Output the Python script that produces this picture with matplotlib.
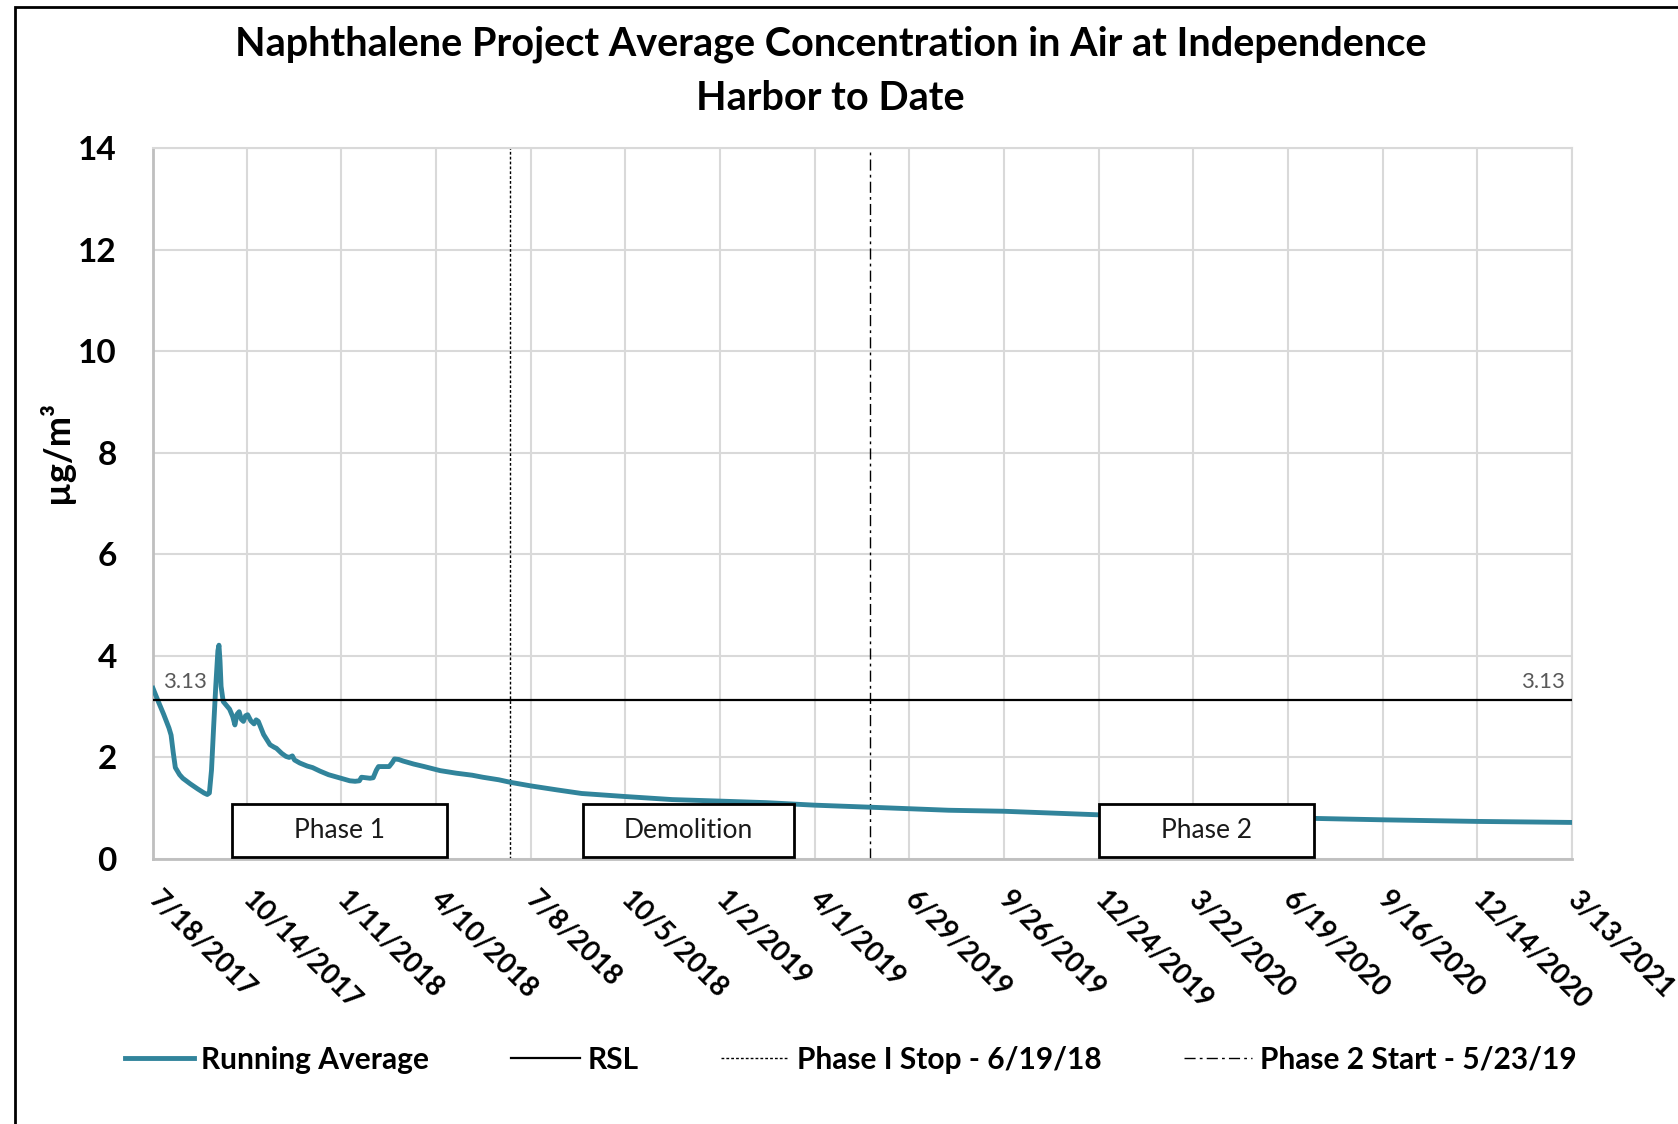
import matplotlib
matplotlib.use("Agg")
import matplotlib.pyplot as plt
from matplotlib.patches import Rectangle
import pandas as pd

# running average, days after 7/18/2017
days = [0, 5, 10, 15, 17, 19, 21, 25, 28, 35, 42, 48, 51, 53, 55, 57, 59, 61, 62,
        63, 64, 66, 68, 70, 72, 75, 77, 79, 81, 83, 85, 87, 89, 92, 95, 97, 99,
        104, 110, 114, 116, 121, 125, 128, 131, 133, 138, 145, 150, 157, 165,
        175, 185, 190, 194, 196, 200, 204, 207, 210, 212, 218, 222, 225, 227,
        231, 235, 245, 255, 270, 285, 300, 310, 325, 336, 355, 380, 403, 444,
        488, 533, 576, 622, 674, 711, 748, 800, 889, 1000, 1090, 1160, 1245, 1334]
running_avg = [3.36, 3.10, 2.85, 2.58, 2.44, 2.10, 1.80, 1.66, 1.59, 1.48, 1.38, 1.30,
               1.27, 1.30, 1.75, 2.60, 3.40, 4.10, 4.21, 3.90, 3.40, 3.10, 3.05, 3.00,
               2.95, 2.80, 2.64, 2.85, 2.90, 2.75, 2.71, 2.82, 2.84, 2.72, 2.66, 2.74,
               2.71, 2.45, 2.25, 2.20, 2.18, 2.08, 2.02, 2.00, 2.03, 1.95, 1.89, 1.83,
               1.80, 1.73, 1.66, 1.60, 1.54, 1.53, 1.54, 1.61, 1.60, 1.59, 1.60, 1.75,
               1.82, 1.82, 1.82, 1.90, 1.97, 1.96, 1.93, 1.87, 1.82, 1.74, 1.69, 1.65,
               1.61, 1.56, 1.51, 1.44, 1.36, 1.29, 1.23, 1.17, 1.14, 1.11, 1.06, 1.02,
               0.99, 0.96, 0.94, 0.87, 0.83, 0.80, 0.77, 0.74, 0.72]

rsl = 3.13
start_date = "2017-07-18"
phase1_stop = "2018-06-19"
phase2_start = "2019-05-23"

tick_labels = ["7/18/2017", "10/14/2017", "1/11/2018", "4/10/2018", "7/8/2018",
               "10/5/2018", "1/2/2019", "4/1/2019", "6/29/2019", "9/26/2019",
               "12/24/2019", "3/22/2020", "6/19/2020", "9/16/2020", "12/14/2020",
               "3/13/2021"]

# (label, x0, x1) in axes fraction
boxes = [("Phase 1", 0.056, 0.207), ("Demolition", 0.303, 0.452), ("Phase 2", 0.667, 0.818)]

teal = "#31849B"
grid_c = "#D9D9D9"
plt.rcParams['font.family'] = ['Lato', 'DejaVu Sans']

dates = pd.Timestamp(start_date) + pd.to_timedelta(days, unit="D")
tick_dates = pd.to_datetime(tick_labels, format="%m/%d/%Y")

fig = plt.figure(figsize=(16.78, 11.24), dpi=100)
ax = fig.add_axes([153 / 1678, 1 - 859 / 1124, (1572 - 153) / 1678, (859 - 148) / 1124])

ax.plot(dates, running_avg, color=teal, lw=3.5, label="Running Average", zorder=3)
ax.plot([tick_dates[0], tick_dates[-1]], [rsl, rsl], color="black", lw=1.6, label="RSL", zorder=3)
ax.axvline(pd.Timestamp(phase1_stop), color="black", lw=1, ls=(0, (2, 1.5)),
           label="Phase I Stop - 6/19/18", zorder=2)
ax.axvline(pd.Timestamp(phase2_start), color="black", lw=1, ls=(0, (8, 3, 2, 3)),
           label="Phase 2 Start - 5/23/19", zorder=2)

ax.annotate(f"{rsl:.2f}", (tick_dates[0], rsl), xytext=(7, 6), textcoords="offset points",
            ha="left", va="bottom", color="#595959", fontsize=16)
ax.annotate(f"{rsl:.2f}", (tick_dates[-1], rsl), xytext=(-5, 6), textcoords="offset points",
            ha="right", va="bottom", color="#595959", fontsize=16)

for label, x0, x1 in boxes:
    ax.add_patch(Rectangle((x0, 0.003), x1 - x0, 0.075, transform=ax.transAxes,
                           facecolor="white", edgecolor="black", lw=2, zorder=5))
    ax.text((x0 + x1) / 2, 0.04, label, transform=ax.transAxes, ha="center", va="center",
            fontsize=19, color="#1a1a1a", zorder=6)

ax.set_xlim(tick_dates[0], tick_dates[-1])
ax.set_ylim(0, 14)
ax.set_yticks(range(0, 15, 2))
ax.set_xticks(tick_dates)
ax.set_xticklabels(tick_labels, rotation=-45, ha="left", va="center",
                   rotation_mode="anchor", fontsize=20, fontweight="bold")
ax.tick_params(axis="x", length=0, pad=26)
ax.tick_params(axis="y", length=0, pad=26, labelsize=24)
for t in ax.get_yticklabels():
    t.set_fontweight("bold")
ax.grid(True, color=grid_c, lw=1.5)
ax.set_axisbelow(True)
for s in ["top", "right"]:
    ax.spines[s].set_color(grid_c)
    ax.spines[s].set_linewidth(1.5)
for s in ["left", "bottom"]:
    ax.spines[s].set_color("#BFBFBF")
    ax.spines[s].set_linewidth(2)

fig.text(56 / 1678, 1 - 452 / 1124, "µg/m³", rotation=90, ha="center", va="center",
         fontsize=26, fontweight="bold")
fig.text(0.495, 1 - 44 / 1124, "Naphthalene Project Average Concentration in Air at Independence",
         ha="center", va="center", fontsize=28.5, fontweight="bold")
fig.text(0.495, 1 - 99 / 1124, "Harbor to Date", ha="center", va="center",
         fontsize=28.5, fontweight="bold")

fig.legend(loc="center", bbox_to_anchor=(0.507, 0.057), ncol=4, frameon=False,
           handlelength=2.3, handletextpad=0.25, columnspacing=2.75,
           prop={"weight": "bold", "size": 21.5})

fig.add_artist(Rectangle((15 / 1678, -0.5), 2, 1.5 - 7 / 1124, transform=fig.transFigure,
                         fill=False, edgecolor="black", lw=2))

fig.savefig("out.png", dpi=100)
